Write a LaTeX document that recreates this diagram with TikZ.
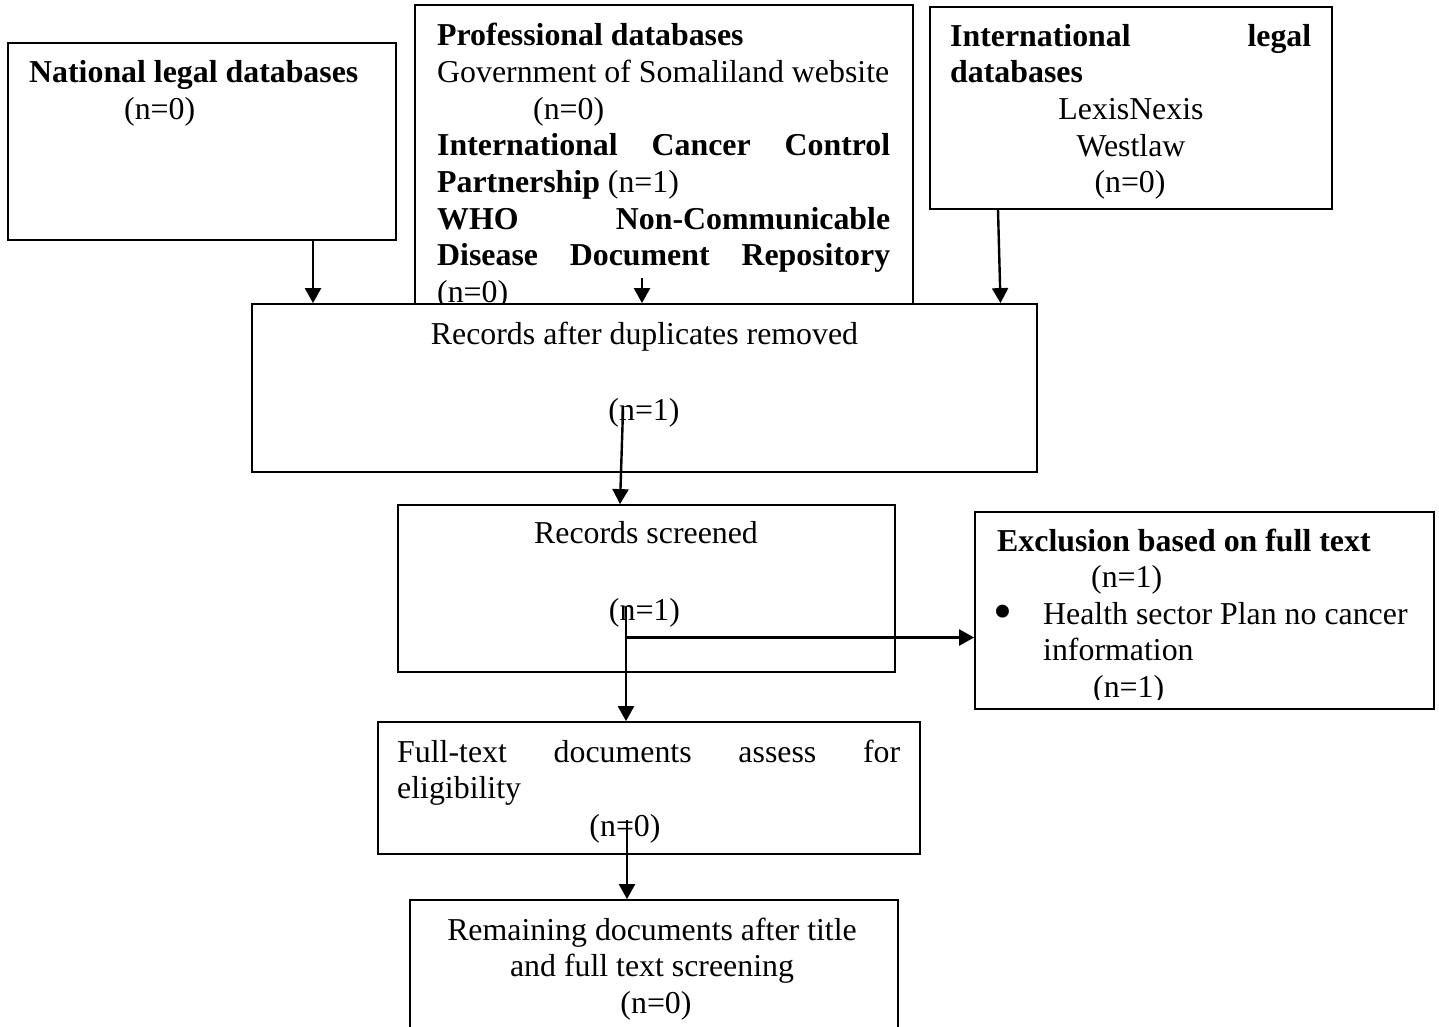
\documentclass[tikz,border=0pt]{standalone}
\usepackage{fontspec}
\setmainfont{Liberation Serif}
\usetikzlibrary{arrows.meta,fit}
\begin{document}
\begin{tikzpicture}[x=1pt,y=-1pt,
  box/.style={draw, line width=1.8pt, fill=white, inner sep=0pt},
  txt/.style={inner sep=0pt, font=\fontsize{31.85pt}{36.6pt}\selectfont},
  lft/.style={txt, anchor=base west},
  ctr/.style={txt, anchor=base},
  arr/.style={line width=2.4pt, -{Triangle[length=15pt,width=16pt]}}]
\useasboundingbox[fill=white] (0,0) rectangle (1439,1027);

% source boxes
\node[box, fit={(415,5) (913,305)}] (prof) {};
\node[box, fit={(8,43) (396,240)}] (nat) {};
\node[box, fit={(930,7) (1332,209)}] (intl) {};
% flow boxes
\node[box, fit={(252,304) (1037,472)}] (rad) {};
\node[box, fit={(398,505) (895,672)}] (scr) {};
\node[box, fit={(975,512) (1434,709)}] (excl) {};
\node[box, fit={(378,722) (920,854)}] (full) {};
\node[box, fit={(410,900) (898,1045)}] (rem) {};

% professional databases
\node[lft] (p1) at (437,46) {\bfseries Professional databases};
\node[lft] (p2) at (437,82.6) {Government of Somaliland website};
\node[lft] (p3) at (533,119.2) {(n=0)};
\node[lft] (p4) at (437,155.8) {\makebox[453pt][s]{\bfseries International Cancer Control}};
\node[lft] (p5) at (437,192.4) {\textbf{Partnership} (n=1)};
\node[lft] (p6) at (437,229) {\makebox[453pt][s]{\bfseries WHO Non-Communicable}};
\node[lft] (p7) at (437,265.6) {\makebox[453pt][s]{\bfseries Disease Document Repository}};
\begin{scope}
  \clip (415,5) rectangle (913,304);
  \node[lft] (p8) at (437,302.2) {(n=0)};
\end{scope}

% national legal databases
\node[lft] (n1) at (29,83) {\bfseries National legal databases};
\node[lft] (n2) at (124,120) {(n=0)};

% international legal databases
\node[lft] (i1) at (950,47) {\makebox[361pt][s]{\bfseries International legal}};
\node[lft] (i2) at (950,83) {\bfseries databases};
\node[ctr] (i3) at (1131,120) {LexisNexis};
\node[ctr] (i4) at (1131,156.6) {Westlaw};
\node[ctr] (i5) at (1130,193) {(n=0)};

% records after duplicates removed
\node[ctr] (r1) at (644.5,344) {Records after duplicates removed};
\node[ctr] (r2) at (644,420) {(n=1)};

% records screened
\node[ctr] (s1) at (646,543) {Records screened};
\node[ctr] (s2) at (644.5,620) {(n=1)};

% exclusion
\node[lft] (e1) at (997,551) {\bfseries Exclusion based on full text};
\node[lft] (e2) at (1091,587.6) {(n=1)};
\node[inner sep=0pt, font=\fontsize{54pt}{54pt}\selectfont] (e3) at (1003,617.5) {\textbullet};
\node[lft] (e4) at (1043,624.2) {Health sector Plan no cancer};
\node[lft] (e5) at (1043,660.8) {information};
\begin{scope}
  \clip (975,512) rectangle (1434,699);
  \node[lft] (e6) at (1093,697.4) {(n=1)};
\end{scope}

% full-text assessment
\node[lft] (f1) at (397,762) {\makebox[503pt][s]{Full-text documents assess for}};
\node[lft] (f2) at (397,798.6) {eligibility};
\node[ctr] (f3) at (625,836) {(n=0)};

% remaining documents
\node[ctr] (m1) at (652,940) {Remaining documents after title};
\node[ctr] (m2) at (652,976.6) {and full text screening};
\node[ctr] (m3) at (656,1013.2) {(n=0)};

% connectors
\coordinate (ca) at (313,0);
\draw[arr] (ca |- nat.south) -- (ca |- rad.north);
\coordinate (pa) at (642,278);
\draw[arr] (pa) -- (pa |- rad.north);
\coordinate (ia) at (998,0);
\coordinate (ib) at (1000.5,0);
\draw[arr] (ia |- intl.south) -- (ib |- rad.north);
\coordinate (ra) at (623,410);
\coordinate (rb) at (620,0);
\draw[arr] (ra) -- (rb |- scr.north);
\coordinate (sa) at (626,607);
\draw[arr] (sa) -- (sa |- full.north);
\coordinate (sh) at (626,637.5);
\draw[arr] (sh) -- (sh -| excl.west);
\coordinate (fa) at (627,820);
\draw[arr] (fa) -- (fa |- rem.north);
\end{tikzpicture}
\end{document}
